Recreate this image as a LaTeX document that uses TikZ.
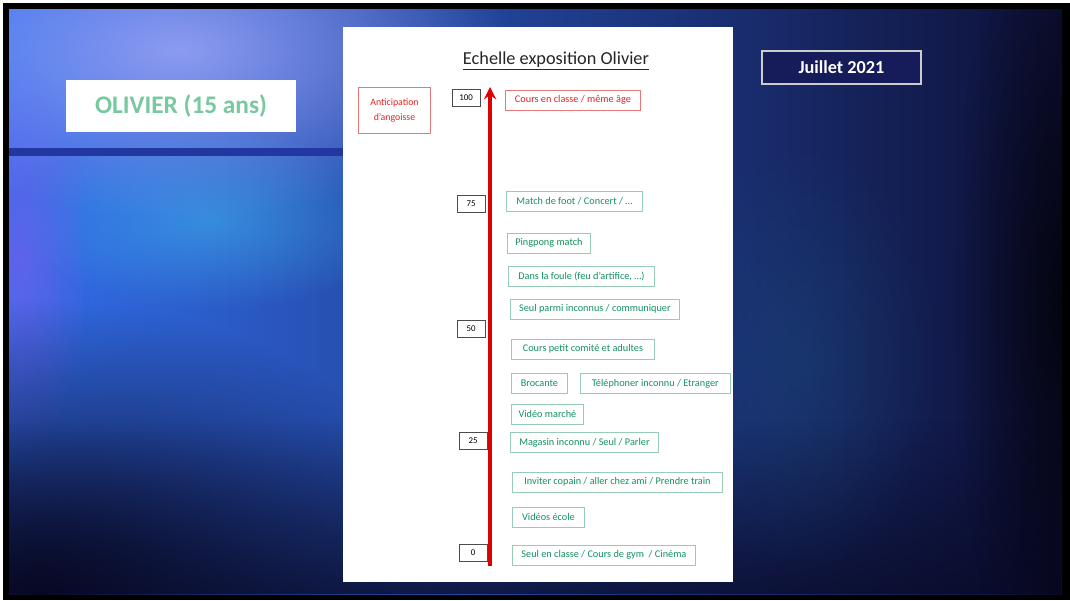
\documentclass[tikz,border=0pt]{standalone}
\usepackage{fontspec}
\setmainfont{Carlito}
\usetikzlibrary{arrows, positioning, fadings}

\definecolor{expgreen}{RGB}{20,145,95}
\definecolor{expgreenline}{RGB}{150,205,180}
\definecolor{expred}{RGB}{225,35,35}
\definecolor{expredline}{RGB}{230,120,120}
\definecolor{arrowred}{RGB}{220,0,0}
\definecolor{olivgreen}{RGB}{120,200,160}
\definecolor{bgleft}{RGB}{50,110,235}
\definecolor{bgmid}{RGB}{30,62,165}
\definecolor{bgright}{RGB}{14,16,55}
\definecolor{bgglow}{RGB}{165,170,250}
\definecolor{bgcyan}{RGB}{70,200,250}
\definecolor{bgpurple}{RGB}{140,90,235}
\definecolor{bgteal}{RGB}{30,100,140}
\definecolor{bgdark}{RGB}{8,8,35}
\definecolor{barblue}{RGB}{35,55,160}
\definecolor{datenavy}{RGB}{22,28,90}
\tikzfading[name = glow, inner color = transparent!0, outer color = transparent!100]
\tikzfading[name = fade top, top color = transparent!100, bottom color = transparent!0]

\begin{document}
\begin{tikzpicture}[
            x = 0.025cm,
            y = -0.025cm,
            > = stealth,
            font = \fontsize{7.3}{8.5}\selectfont
        ]
        \tikzstyle{green box}=[
            draw = expgreenline,
            line width = 0.6pt,
            text = expgreen,
            minimum height = 0.5cm,
            inner xsep = 4pt,
            anchor = west
        ]
        \tikzstyle{red box}=[
            green box,
            draw = expredline,
            text = expred
        ]
        \tikzstyle{level}=[
            draw = black!70,
            line width = 0.6pt,
            minimum width = 0.7cm,
            minimum height = 0.42cm,
            font = \fontsize{6.3}{7}\selectfont
        ]

        % background
        \useasboundingbox (0,0) rectangle (1070,600);
        \fill[white] (0,0) rectangle (1070,600);
        \fill[black] (3,3) rectangle (1070,600);
        \begin{scope}
            \clip (9,9) rectangle (1062,594);
            \shade[left color = bgleft, middle color = bgmid, right color = bgright] (9,9) rectangle (1062,594);
            \fill[bgglow, path fading = glow, opacity = 0.8] (180,50) ellipse [x radius = 330, y radius = 170];
            \fill[bgcyan, path fading = glow, opacity = 0.45] (210,220) ellipse [x radius = 200, y radius = 90];
            \fill[bgpurple, path fading = glow, opacity = 0.5] (20,260) ellipse [x radius = 70, y radius = 200];
            \fill[bgdark, path fading = fade top, opacity = 0.7] (9,420) rectangle (1062,594);
            \fill[bgdark, path fading = glow, opacity = 1] (40,600) ellipse [x radius = 420, y radius = 300];
            \fill[bgteal, path fading = glow, opacity = 0.25] (800,360) ellipse [x radius = 140, y radius = 220];
            \fill[black, path fading = glow, opacity = 0.7] (1062,300) ellipse [x radius = 110, y radius = 420];
        \end{scope}
        \fill[barblue] (9,148) rectangle (343,156);

        \node[fill = white, minimum width = 5.75cm, minimum height = 1.3cm,
              text = olivgreen, font = \bfseries\fontsize{18}{20}\selectfont] (olivier) at (181,106) {OLIVIER (15 ans)};
        \node[draw = gray!40, line width = 0.8pt, fill = datenavy, minimum width = 3.975cm, minimum height = 0.825cm,
              text = white, font = \bfseries\fontsize{13}{15}\selectfont] (date) at (841.5,67.5) {Juillet 2021};

        % page
        \fill[white] (343,27) rectangle (733,582);
        \node[text = black!85, font = \fontsize{13}{15}\selectfont] (titre) at (556,61) {\underline{Echelle exposition Olivier}};

        \node[draw = expredline, line width = 0.6pt, text = expred, align = center,
              minimum width = 1.78cm, minimum height = 1.13cm, font = \fontsize{7}{11}\selectfont] (angoisse) at (394.5,110.5) {Anticipation\\d'angoisse};

        \coordinate (bas) at (490,566);
        \coordinate (haut) at (490,87);
        \draw[->, arrowred, line width = 2.8pt] (bas) -- (haut);

        \node[level] (n100) at (466,98) {100};
        \node[level] (n75) at (471,204) {75};
        \node[level] (n50) at (471,329) {50};
        \node[level] (n25) at (473,441) {25};
        \node[level] (n0) at (473,553) {0};

        \node[red box, minimum width = 3.375cm] (cours) at (505,100) {Cours en classe / même âge};
        \node[green box, minimum width = 3.4cm] (foot) at (506,201.5) {Match de foot / Concert / …};
        \node[green box, minimum width = 2.075cm] (pingpong) at (507,243) {Pingpong match};
        \node[green box, minimum width = 3.65cm] (foule) at (508,276) {Dans la foule (feu d'artifice, …)};
        \node[green box, minimum width = 4.225cm] (inconnus) at (510,309) {Seul parmi inconnus / communiquer};
        \node[green box, minimum width = 3.575cm] (comite) at (511,349) {Cours petit comité et adultes};
        \node[green box, minimum width = 1.4cm] (brocante) at (511,383.5) {Brocante};
        \node[green box, minimum width = 3.75cm] (telephone) [right = 0.3cm of brocante] {Téléphoner inconnu / Etranger};
        \node[green box, minimum width = 1.8cm] (marche) at (511,414) {Vidéo marché};
        \node[green box, minimum width = 3.7cm] (magasin) at (510,442.5) {Magasin inconnu / Seul / Parler};
        \node[green box, minimum width = 5.25cm] (copain) at (512,482) {Inviter copain / aller chez ami / Prendre train};
        \node[green box, minimum width = 1.8cm] (ecole) at (512,517) {Vidéos école};
        \node[green box, minimum width = 4.575cm] (classe) at (512,555) {Seul en classe / Cours de gym~ / Cinéma};
\end{tikzpicture}
\end{document}
